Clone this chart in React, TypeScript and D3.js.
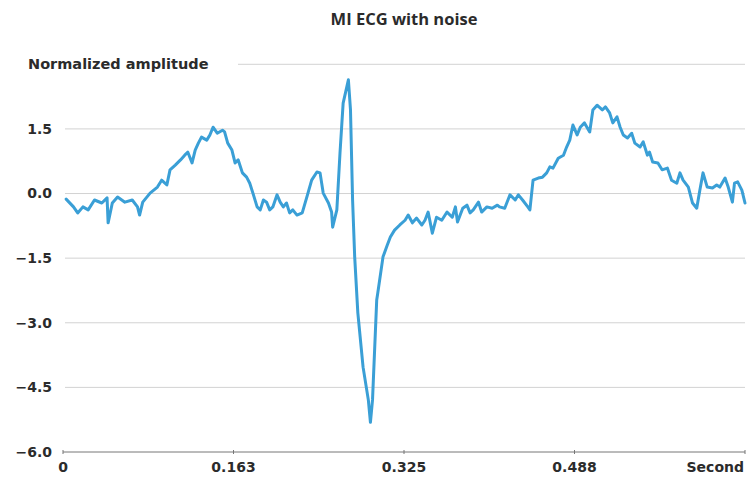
import React from "react";
import * as d3 from "d3";

// ECG trace: time in seconds, amplitude normalized
const timeSec = [
  0.003, 0.010, 0.014, 0.019, 0.024, 0.030, 0.037, 0.042, 0.043, 0.047,
  0.052, 0.059, 0.066, 0.071, 0.073, 0.076, 0.083, 0.090, 0.094, 0.099,
  0.102, 0.107, 0.112, 0.116, 0.119, 0.123, 0.126, 0.129, 0.132, 0.137,
  0.140, 0.143, 0.147, 0.152, 0.154, 0.157, 0.161, 0.164, 0.167, 0.171,
  0.175, 0.178, 0.181, 0.185, 0.188, 0.191, 0.194, 0.197, 0.200, 0.204,
  0.207, 0.210, 0.213, 0.216, 0.219, 0.223, 0.228, 0.233, 0.237, 0.242,
  0.245, 0.248, 0.253, 0.256, 0.257, 0.261, 0.264, 0.267, 0.272, 0.274,
  0.276, 0.278, 0.281, 0.286, 0.291, 0.293, 0.295, 0.299, 0.300, 0.305,
  0.309, 0.312, 0.316, 0.321, 0.326, 0.329, 0.333, 0.337, 0.342, 0.345,
  0.348, 0.352, 0.356, 0.361, 0.366, 0.371, 0.374, 0.376, 0.381, 0.385,
  0.388, 0.391, 0.396, 0.399, 0.404, 0.409, 0.414, 0.416, 0.421, 0.426,
  0.431, 0.434, 0.438, 0.443, 0.445, 0.448, 0.453, 0.457, 0.461, 0.464,
  0.467, 0.472, 0.477, 0.480, 0.483, 0.486, 0.490, 0.493, 0.497, 0.502,
  0.505, 0.509, 0.514, 0.517, 0.521, 0.524, 0.528, 0.531, 0.534, 0.538,
  0.542, 0.545, 0.550, 0.553, 0.557, 0.559, 0.562, 0.567, 0.571, 0.576,
  0.580, 0.585, 0.588, 0.591, 0.596, 0.600, 0.604, 0.607, 0.610, 0.614,
  0.619, 0.623, 0.626, 0.631, 0.634, 0.638, 0.640, 0.643, 0.647, 0.650,
];

const amplitude = [
  -0.13, -0.31, -0.45, -0.31, -0.38, -0.15, -0.22, -0.10, -0.68, -0.22,
  -0.08, -0.20, -0.15, -0.31, -0.50, -0.20, 0.01, 0.15, 0.31, 0.20,
  0.55, 0.66, 0.78, 0.89, 0.96, 0.71, 1.01, 1.17, 1.31, 1.24,
  1.36, 1.54, 1.40, 1.47, 1.43, 1.17, 1.01, 0.71, 0.78, 0.48,
  0.38, 0.24, 0.01, -0.31, -0.38, -0.15, -0.20, -0.38, -0.31, -0.03,
  -0.20, -0.31, -0.22, -0.45, -0.38, -0.50, -0.45, -0.03, 0.31, 0.50,
  0.48, 0.01, -0.22, -0.43, -0.78, -0.38, 0.94, 2.10, 2.64, 1.94,
  -0.15, -1.47, -2.77, -4.03, -4.79, -5.31, -4.79, -2.47, -2.31, -1.47,
  -1.20, -1.01, -0.85, -0.73, -0.62, -0.50, -0.68, -0.57, -0.73, -0.62,
  -0.43, -0.92, -0.55, -0.62, -0.43, -0.55, -0.31, -0.66, -0.34, -0.27,
  -0.45, -0.38, -0.20, -0.43, -0.31, -0.34, -0.27, -0.31, -0.34, -0.03,
  -0.15, -0.03, -0.15, -0.31, -0.38, 0.31, 0.36, 0.38, 0.48, 0.62,
  0.59, 0.82, 0.89, 1.08, 1.24, 1.59, 1.36, 1.54, 1.64, 1.43,
  1.94, 2.05, 1.94, 2.01, 1.87, 1.64, 1.78, 1.54, 1.36, 1.29,
  1.40, 1.17, 1.08, 1.20, 0.89, 0.96, 0.73, 0.71, 0.55, 0.59,
  0.31, 0.24, 0.48, 0.31, 0.15, -0.22, -0.34, 0.08, 0.48, 0.15,
  0.13, 0.20, 0.15, 0.36, 0.15, -0.20, 0.24, 0.27, 0.08, -0.22,
];

const yTicks = [-6.0, -4.5, -3.0, -1.5, 0.0, 1.5];
const yTop = 3.0;
const xTicks = [0, 0.1625, 0.325, 0.4875, 0.65];
const xTickLabels = ["0", "0.163", "0.325", "0.488", "Second"];

const title = "MI ECG with noise";
const yAxisTitle = "Normalized amplitude";

const W = 747;
const H = 477;
const left = 63;
const right = 745;
const top = 64.3;
const bottom = 452;

const FONT = "'DejaVu Sans', Verdana, sans-serif";
const TITLE_FONT = "'Open Sans', 'Noto Sans', sans-serif";
const TEXT = "#2b2b2b";

export default function App() {
  const x = d3.scaleLinear().domain([0, 0.65]).range([left, right]);
  const y = d3.scaleLinear().domain([-6, yTop]).range([bottom, top]);

  const points: [number, number][] = timeSec.map((t, i) => [t, amplitude[i]]);
  const line = d3
    .line<[number, number]>()
    .x((d) => x(d[0]))
    .y((d) => y(d[1]));

  return (
    <svg
      width={W}
      height={H}
      style={{ position: "absolute", left: 0, top: 0, background: "#fff" }}
      fontFamily={FONT}
    >
      <text
        x={404}
        y={19}
        dy="0.35em"
        textAnchor="middle"
        fontFamily={TITLE_FONT}
        fontSize={16.5}
        fontWeight={700}
        fill={TEXT}
      >
        {title}
      </text>

      {/* horizontal grid */}
      {yTicks
        .filter((v) => v !== -6)
        .map((v) => (
          <line
            key={v}
            x1={left + 2}
            x2={right}
            y1={y(v)}
            y2={y(v)}
            stroke="#d2d2d2"
            strokeWidth={1}
          />
        ))}
      <line
        x1={238}
        x2={right}
        y1={y(yTop)}
        y2={y(yTop)}
        stroke="#d2d2d2"
        strokeWidth={1}
      />
      <text
        x={28}
        y={y(yTop)}
        dy="0.35em"
        fontSize={14.5}
        fontWeight={700}
        fill={TEXT}
      >
        {yAxisTitle}
      </text>

      {yTicks.map((v) => (
        <text
          key={v}
          x={52}
          y={y(v)}
          dy="0.35em"
          textAnchor="end"
          fontSize={14}
          fontWeight={700}
          fill={TEXT}
        >
          {d3.format(".1f")(v)}
        </text>
      ))}

      {/* x axis */}
      <line
        x1={left}
        x2={right}
        y1={bottom}
        y2={bottom}
        stroke="#777"
        strokeWidth={1}
      />
      {xTicks.map((t, i) => (
        <g key={t}>
          <line
            x1={x(t)}
            x2={x(t)}
            y1={bottom - 2}
            y2={bottom + 2}
            stroke="#777"
            strokeWidth={1}
          />
          <text
            x={i === xTicks.length - 1 ? x(t) - 1 : x(t)}
            y={bottom + 15}
            dy="0.35em"
            textAnchor={i === xTicks.length - 1 ? "end" : "middle"}
            fontSize={14}
            fontWeight={700}
            fill={TEXT}
          >
            {xTickLabels[i]}
          </text>
        </g>
      ))}

      <path
        d={line(points) ?? ""}
        fill="none"
        stroke="#3a9fd6"
        strokeWidth={3}
        strokeLinejoin="round"
        strokeLinecap="round"
      />
    </svg>
  );
}
